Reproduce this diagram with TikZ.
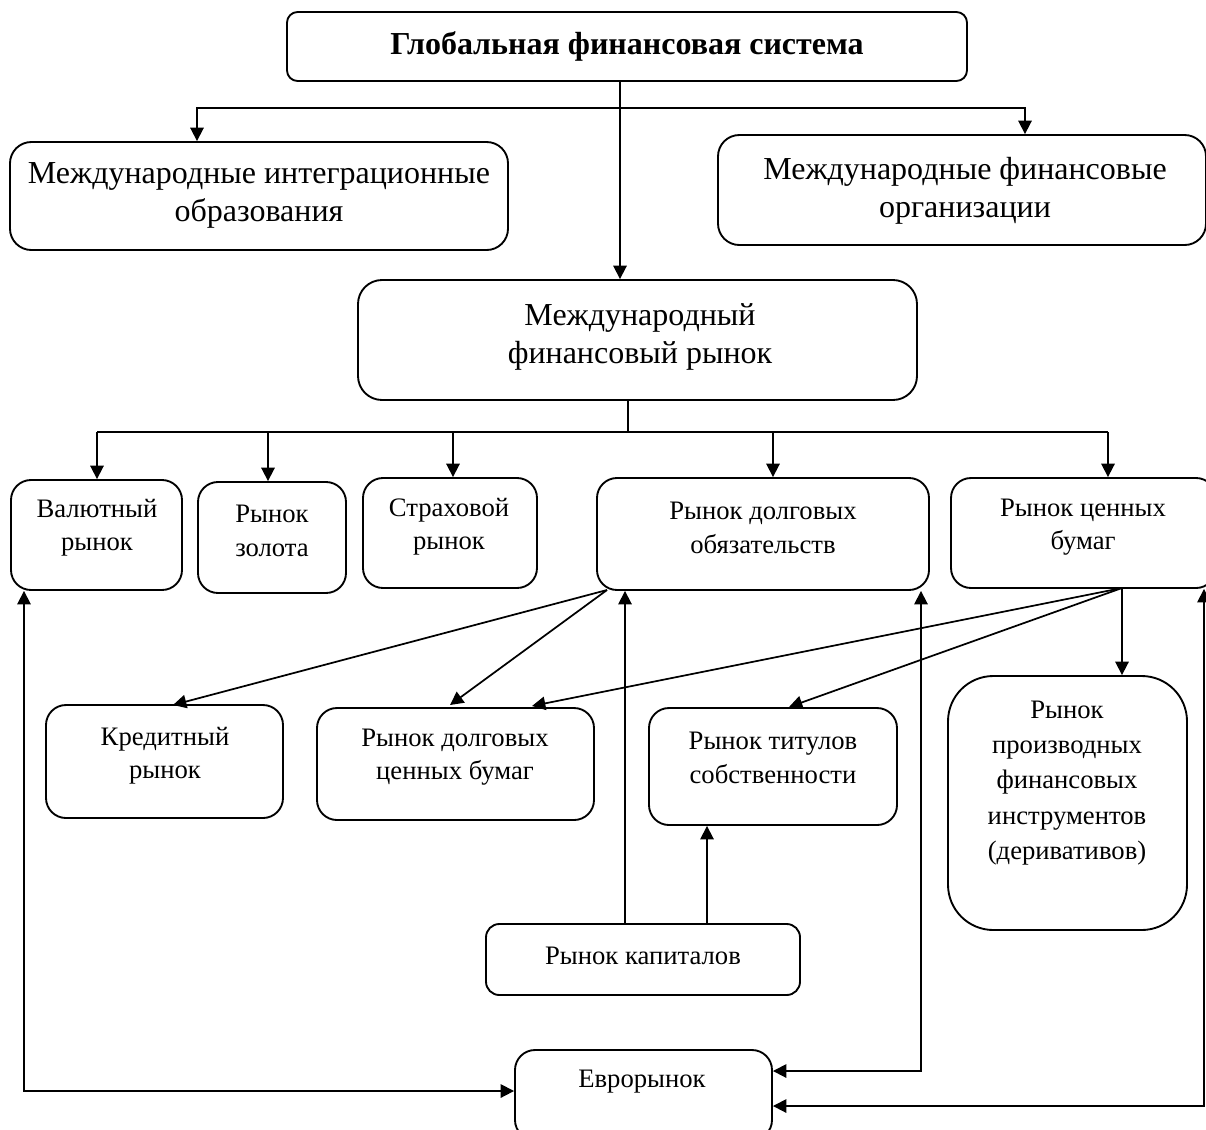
\documentclass[tikz,border=0pt]{standalone}
\usepackage{fontspec}
\setmainfont{Liberation Serif}
\usetikzlibrary{arrows.meta,calc}
\tikzset{
  frame/.style 2 args={draw, line width=1.4pt, minimum width=#1*0.75pt,
    minimum height=#2*0.75pt, inner sep=0pt},
  big/.style={font=\fontsize{24}{28.5}\selectfont, align=center, inner sep=0pt},
  small/.style={font=\fontsize{20}{25}\selectfont, align=center, inner sep=0pt},
  link/.style={line width=1.3pt},
  tip/.tip={Triangle[length=10pt,width=10pt]},
  arr/.style={link, -tip},
  biarr/.style={link, tip-tip},
}
\begin{document}
\begin{tikzpicture}[x=0.75pt,y=-0.75pt]
\useasboundingbox (0,0) rectangle (1206,1129);

% boxes
\node[frame={680}{69}, rounded corners=8pt]   (top)   at (627,46.5) {};
\node[frame={498}{108}, rounded corners=16pt] (integ) at (259,196) {};
\node[frame={488}{110}, rounded corners=16pt] (org)   at (962,190) {};
\node[frame={559}{120}, rounded corners=18pt] (mfr)   at (637.5,340) {};
\node[frame={171}{110}, rounded corners=15pt] (val)   at (96.5,535) {};
\node[frame={148}{111}, rounded corners=15pt] (gold)  at (272,537.5) {};
\node[frame={174}{110}, rounded corners=15pt] (ins)   at (450,533) {};
\node[frame={332}{112}, rounded corners=15pt] (debt)  at (763,534) {};
\node[frame={265}{110}, rounded corners=15pt] (sec)   at (1083.5,533) {};
\node[frame={237}{113}, rounded corners=15pt] (cred)  at (164.5,761.5) {};
\node[frame={277}{112}, rounded corners=15pt] (dsec)  at (455.5,764) {};
\node[frame={248}{117}, rounded corners=15pt] (titl)  at (773,766.5) {};
\node[frame={239}{254}, rounded corners=34pt] (deriv) at (1067.5,803) {};
\node[frame={314}{71}, rounded corners=10pt]  (cap)   at (643,959.5) {};
\node[frame={257}{90}, rounded corners=15pt]  (euro)  at (643.5,1095) {};

% labels
\node[big, font=\fontsize{24}{28.5}\selectfont\bfseries] (topT) at (627,46) {Глобальная финансовая система};
\node[big] (integT) at (259,195) {Международные интеграционные\\образования};
\node[big] (orgT)   at (965,191) {Международные финансовые\\организации};
\node[big] (mfrT)   at (640,337) {Международный\\финансовый рынок};
\node[small] (valT)   at (97,528)  {Валютный\\рынок};
\node[small] (goldT)  at (272,531) {Рынок\\золота};
\node[small] (insT)   at (449,527) {Страховой\\рынок};
\node[small] (debtT)  at (763,528) {Рынок долговых\\обязательств};
\node[small] (secT)   at (1083,527) {Рынок ценных\\бумаг};
\node[small] (credT)  at (165,756) {Кредитный\\рынок};
\node[small] (dsecT)  at (455,757) {Рынок долговых\\ценных бумаг};
\node[small] (titlT)  at (773,758) {Рынок титулов\\собственности};
\node[small, font=\fontsize{20}{26.5}\selectfont] (derivT) at (1067,783) {Рынок\\производных\\финансовых\\инструментов\\(деривативов)};
\node[small] (capT)   at (643,956) {Рынок капиталов};
\node[small] (euroT)  at (642,1082) {Еврорынок};

% upper tree
\coordinate (j1) at (620,108);
\coordinate (jl) at (197,108);
\coordinate (jr) at (1025,108);
\draw[link] (j1 |- top.south) -- (j1);
\draw[arr] (j1) -- (j1 |- mfr.north);
\draw[arr] (j1) -- (jl) -- (jl |- integ.north);
\draw[arr] (j1) -- (jr) -- (jr |- org.north);

% lower tree
\coordinate (j2) at (628,432);
\coordinate (a1) at (97,432);
\coordinate (a2) at (268,432);
\coordinate (a3) at (453,432);
\coordinate (a4) at (773,432);
\coordinate (a5) at (1108,432);
\draw[link] (j2 |- mfr.south) -- (j2);
\draw[link] (a1) -- (a5);
\draw[arr] (a1) -- (a1 |- val.north);
\draw[arr] (a2) -- (a2 |- gold.north);
\draw[arr] (a3) -- (a3 |- ins.north);
\draw[arr] (a4) -- (a4 |- debt.north);
\draw[arr] (a5) -- (a5 |- sec.north);

% branches of the debt and securities markets
\coordinate (d0) at (607,590);
\coordinate (s0) at (1122,588);
\coordinate (c1) at (173,705);
\coordinate (c2) at (450,705);
\coordinate (c3) at (532,706);
\coordinate (c4) at (789,707);
\draw[arr] (d0) -- (c1);
\draw[arr] (d0) -- (c2);
\draw[arr] (s0) -- (c3);
\draw[arr] (s0) -- (c4);
\draw[arr] (s0) -- (s0 |- deriv.north);

% capital market
\coordinate (k1) at (625,924);
\coordinate (k2) at (707,924);
\draw[arr] (k1 |- cap.north) -- (k1 |- debt.south);
\draw[arr] (k2 |- cap.north) -- (k2 |- titl.south);

% euromarket links
\coordinate (e1) at (24,1091);
\coordinate (e2) at (921,1071);
\coordinate (e3) at (1204,1106);
\draw[biarr] (e1 |- val.south) -- (e1) -- (e1 -| euro.west);
\draw[biarr] (e2 |- debt.south) -- (e2) -- (e2 -| euro.east);
\draw[biarr] (e3 |- sec.south) -- (e3) -- (e3 -| euro.east);

\end{tikzpicture}
\end{document}
